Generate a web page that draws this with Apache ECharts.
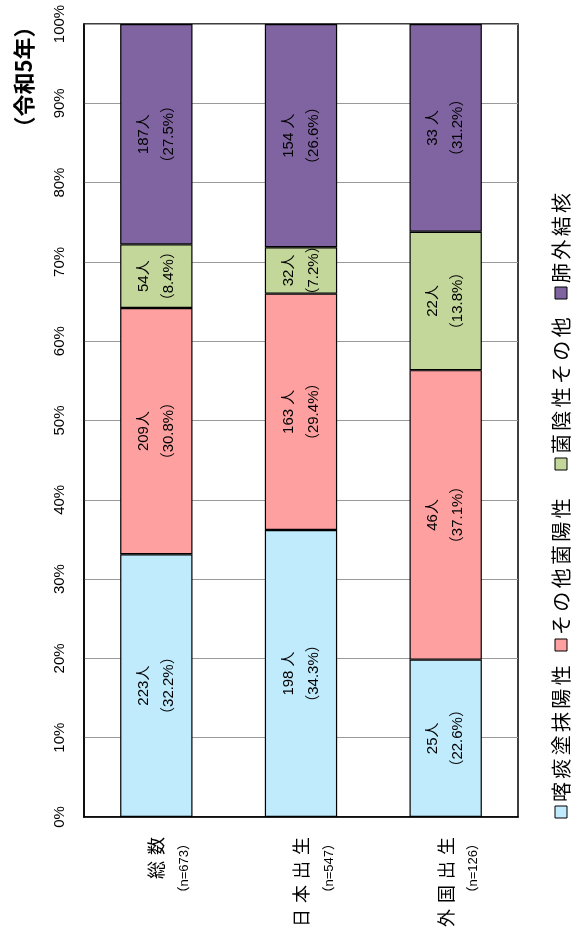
<!DOCTYPE html>
<html><head><meta charset="utf-8">
<script src="https://cdn.jsdelivr.net/npm/echarts@6/dist/echarts.min.js"></script>
<style>html,body{margin:0;padding:0;background:#fff}#c{width:581px;height:931px}</style>
</head><body><div id="c"></div>
<script>
// ---- data ----
const categories = ['総数', '日本出生', '外国出生'];
const categoryN = ['（n=673）', '（n=547）', '（n=126）'];
const seriesNames = ['喀痰塗抹陽性', 'その他菌陽性', '菌陰性その他', '肺外結核'];
const colors = ['#BFEBFD', '#FFA0A0', '#C4D79B', '#8064A2'];
const countSputum = [223, 198, 25];
const countOtherPos = [209, 163, 46];
const countNeg = [54, 32, 22];
const countExtra = [187, 154, 33];
const textSputum = ['223人', '198 人', '25人'];
const textOtherPos = ['209人', '163 人', '46人'];
const textNeg = ['54人', '32人', '22人'];
const textExtra = ['187人', '154 人', '33 人'];
const pctSputum = ['32.2', '34.3', '22.6'];
const pctOtherPos = ['30.8', '29.4', '37.1'];
const pctNeg = ['8.4', '7.2', '13.8'];
const pctExtra = ['27.5', '26.6', '31.2'];
const periodLabel = '（令和5年）';

const counts = [countSputum, countOtherPos, countNeg, countExtra];
const texts = [textSputum, textOtherPos, textNeg, textExtra];
const pcts = [pctSputum, pctOtherPos, pctNeg, pctExtra];
const totals = categories.map((_, i) => counts.reduce((s, arr) => s + arr[i], 0));

const FONT = '"Liberation Sans", "Noto Sans CJK JP", sans-serif';
const CJK = '"Noto Sans CJK JP", sans-serif';

const series = seriesNames.map((name, s) => ({
  name: name,
  type: 'bar',
  stack: 'all',
  barWidth: '50%',
  data: counts[s].map((v, i) => v / totals[i] * 100),
  itemStyle: { color: colors[s], borderColor: '#000', borderWidth: 1.2 },
  label: {
    show: true,
    position: 'inside',
    rotate: 90,
    color: '#000',
    fontSize: 15,
    lineHeight: 25,
    fontFamily: FONT,
    formatter: p => texts[s][p.dataIndex] + '\n（' + pcts[s][p.dataIndex] + '%）'
  }
}));

// legend drawn as a rotated group (local x runs upward on screen)
const legendOffsets = [0, 167, 348, 519];
const legendChildren = [];
seriesNames.forEach((name, s) => {
  legendChildren.push({
    type: 'rect', shape: { x: legendOffsets[s] - 6, y: -6, width: 12, height: 12 },
    style: { fill: colors[s], stroke: '#000', lineWidth: 1 }
  });
  legendChildren.push({
    type: 'text', x: legendOffsets[s] + 10, y: 0,
    style: { text: name.split('').join('\u2006'), fontSize: 20, fontFamily: CJK, fill: '#000', verticalAlign: 'middle', align: 'left' }
  });
});

const chart = echarts.init(document.getElementById('c'));
chart.setOption({
  animation: false,
  backgroundColor: '#fff',
  grid: { left: 84, right: 63, top: 24, bottom: 114, show: true, borderColor: '#000', borderWidth: 1.5, containLabel: false },
  xAxis: {
    type: 'category',
    data: categories,
    axisLine: { lineStyle: { color: '#000', width: 1.5 } },
    axisTick: { show: false },
    axisLabel: {
      rotate: 90,
      margin: 20,
      interval: 0,
      color: '#000',
      formatter: (v, i) => '{e| }\n{a|' + v.split('').join('\u2004') + '}\n{b|' + categoryN[i] + '}',
      rich: {
        e: { fontSize: 13, lineHeight: 28, fontFamily: CJK },
        a: { fontSize: 18, lineHeight: 28, fontFamily: CJK, color: '#000' },
        b: { fontSize: 13, lineHeight: 28, fontFamily: FONT, color: '#000' }
      }
    }
  },
  yAxis: {
    type: 'value',
    min: 0, max: 100, interval: 10,
    axisLine: { show: true, lineStyle: { color: '#000', width: 1.5 } },
    axisTick: { show: false },
    splitLine: { lineStyle: { color: '#999', width: 1 } },
    axisLabel: { rotate: 90, margin: 17, fontSize: 15, color: '#000', fontFamily: FONT, formatter: '{value}%' }
  },
  series: series,
  graphic: [
    { type: 'group', x: 561, y: 812, rotation: Math.PI / 2, children: legendChildren },
    { type: 'text', x: 24, y: 77, rotation: Math.PI / 2,
      style: { text: periodLabel, fontSize: 22, fontWeight: 'bold', fontFamily: CJK, fill: '#000', align: 'center', verticalAlign: 'middle' } }
  ]
});
</script>
</body></html>
